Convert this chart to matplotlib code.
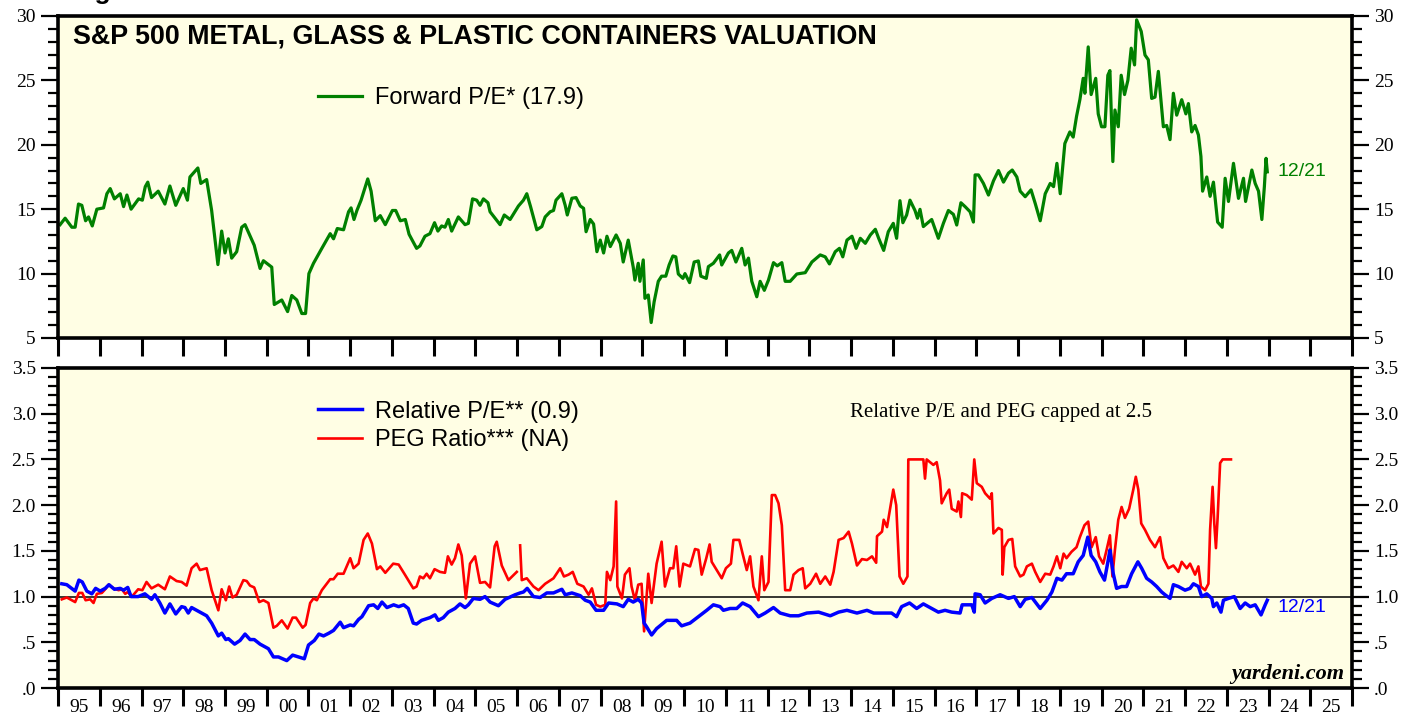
import numpy as np
import matplotlib
matplotlib.use('Agg')
import matplotlib.pyplot as plt
from matplotlib.lines import Line2D
from matplotlib.ticker import MultipleLocator, FuncFormatter

# Forward P/E (weekly data, decimal years)
pe_years = [
    1995.05, 1995.17, 1995.33, 1995.41, 1995.49, 1995.57, 1995.66, 1995.73, 1995.82, 1995.93,
    1996.09, 1996.17, 1996.25, 1996.35, 1996.49, 1996.57, 1996.65, 1996.75, 1996.93, 1997.02,
    1997.09, 1997.15, 1997.24, 1997.40, 1997.56, 1997.68, 1997.82, 1998.00, 1998.10, 1998.16,
    1998.35, 1998.42, 1998.56, 1998.68, 1998.83, 1998.92, 1999.00, 1999.08, 1999.16, 1999.28,
    1999.40, 1999.48, 1999.70, 1999.84, 1999.92, 2000.12, 2000.18, 2000.36, 2000.50, 2000.60,
    2000.72, 2000.84, 2000.93, 2001.01, 2001.12, 2001.32, 2001.52, 2001.60, 2001.69, 2001.84,
    2001.96, 2002.02, 2002.09, 2002.16, 2002.26, 2002.42, 2002.50, 2002.60, 2002.72, 2002.84,
    2003.01, 2003.09, 2003.20, 2003.32, 2003.41, 2003.59, 2003.67, 2003.79, 2003.91, 2004.02,
    2004.10, 2004.19, 2004.27, 2004.35, 2004.43, 2004.59, 2004.75, 2004.83, 2004.93, 2005.03,
    2005.11, 2005.19, 2005.30, 2005.35, 2005.59, 2005.69, 2005.83, 2006.03, 2006.15, 2006.23,
    2006.32, 2006.47, 2006.59, 2006.67, 2006.79, 2006.87, 2006.93, 2007.07, 2007.15, 2007.20,
    2007.31, 2007.41, 2007.51, 2007.59, 2007.65, 2007.75, 2007.83, 2007.91, 2007.99, 2008.07,
    2008.15, 2008.23, 2008.37, 2008.47, 2008.54, 2008.66, 2008.78, 2008.82, 2008.90, 2008.94,
    2009.02, 2009.06, 2009.14, 2009.21, 2009.28, 2009.38, 2009.46, 2009.56, 2009.64, 2009.73,
    2009.80, 2009.86, 2009.97, 2010.02, 2010.13, 2010.24, 2010.34, 2010.40, 2010.53, 2010.58,
    2010.70, 2010.85, 2010.90, 2011.06, 2011.14, 2011.24, 2011.38, 2011.46, 2011.54, 2011.62,
    2011.74, 2011.82, 2011.92, 2012.02, 2012.14, 2012.23, 2012.34, 2012.42, 2012.54, 2012.70,
    2012.90, 2013.06, 2013.26, 2013.38, 2013.48, 2013.62, 2013.72, 2013.80, 2013.90, 2014.02,
    2014.12, 2014.22, 2014.34, 2014.46, 2014.58, 2014.66, 2014.78, 2014.89, 2015.01, 2015.09,
    2015.17, 2015.24, 2015.33, 2015.41, 2015.53, 2015.59, 2015.65, 2015.73, 2015.93, 2016.09,
    2016.21, 2016.33, 2016.45, 2016.53, 2016.63, 2016.73, 2016.85, 2016.93, 2016.97, 2017.05,
    2017.17, 2017.29, 2017.41, 2017.53, 2017.65, 2017.77, 2017.86, 2017.97, 2018.05, 2018.17,
    2018.31, 2018.41, 2018.53, 2018.65, 2018.77, 2018.85, 2018.93, 2019.01, 2019.12, 2019.24,
    2019.32, 2019.40, 2019.48, 2019.56, 2019.60, 2019.68, 2019.75, 2019.86, 2019.92, 2020.00,
    2020.08, 2020.15, 2020.20, 2020.27, 2020.32, 2020.40, 2020.47, 2020.55, 2020.63, 2020.71,
    2020.79, 2020.84, 2020.95, 2021.04, 2021.12, 2021.20, 2021.28, 2021.36, 2021.48, 2021.56,
    2021.64, 2021.72, 2021.80, 2021.92, 2022.02, 2022.08, 2022.16, 2022.24, 2022.32, 2022.38,
    2022.42, 2022.52, 2022.60, 2022.68, 2022.78, 2022.89, 2022.96, 2023.04, 2023.16, 2023.28,
    2023.40, 2023.45, 2023.60, 2023.68, 2023.76, 2023.84, 2023.90, 2023.94, 2023.97,
]
pe_values = [
    13.8, 14.3, 13.6, 13.6, 15.4, 15.3, 14.1, 14.4, 13.7, 15.0,
    15.1, 16.2, 16.6, 15.8, 16.2, 15.2, 16.1, 15.0, 15.8, 15.7,
    16.75, 17.1, 15.9, 16.4, 15.4, 16.8, 15.3, 16.6, 15.7, 17.5,
    18.2, 17.0, 17.3, 14.9, 10.7, 13.3, 11.6, 12.7, 11.2, 11.7,
    13.6, 13.8, 12.2, 10.4, 11.0, 10.5, 7.6, 7.95, 7.05, 8.3,
    7.95, 6.9, 6.9, 10.0, 10.8, 11.96, 13.1, 12.7, 13.5, 13.4,
    14.8, 15.1, 14.2, 14.9, 15.7, 17.35, 16.4, 14.1, 14.5, 13.8,
    14.9, 14.9, 14.1, 14.2, 13.05, 11.96, 12.15, 12.9, 13.1, 13.95,
    13.3, 13.7, 13.6, 14.2, 13.3, 14.4, 13.8, 13.9, 15.8, 15.7,
    15.3, 15.8, 15.5, 14.8, 13.8, 14.55, 14.2, 15.25, 15.7, 16.2,
    15.2, 13.4, 13.65, 14.4, 14.8, 14.9, 15.7, 16.2, 15.3, 14.55,
    15.85, 15.9, 15.25, 15.07, 13.25, 14.2, 13.85, 11.7, 12.6, 11.6,
    12.9, 12.1, 13.0, 12.35, 10.9, 12.6, 10.5, 9.5, 10.8, 9.4,
    11.06, 8.08, 8.34, 6.2, 7.8, 9.4, 9.8, 9.8, 10.67, 11.37,
    11.3, 9.97, 9.63, 10.0, 9.3, 10.9, 10.98, 9.8, 9.63, 10.54,
    10.8, 11.45, 10.67, 11.6, 11.8, 10.9, 11.96, 10.67, 11.2, 9.4,
    8.2, 9.4, 8.7, 9.5, 10.85, 10.6, 10.85, 9.4, 9.4, 9.97,
    10.07, 10.9, 11.45, 11.3, 10.75, 11.7, 11.96, 11.3, 12.6, 12.9,
    11.96, 12.74, 12.35, 13.0, 13.44, 12.74, 11.8, 13.25, 13.9, 12.74,
    15.66, 13.95, 14.55, 15.7, 14.9, 14.3, 14.99, 13.65, 14.2, 12.74,
    13.9, 14.9, 14.6, 13.77, 15.5, 15.2, 14.8, 14.0, 17.66, 17.66,
    17.0, 16.1, 17.2, 18.0, 17.1, 17.8, 18.04, 17.5, 16.4, 15.97,
    16.5, 15.45, 14.1, 16.2, 17.0, 16.75, 18.56, 16.2, 20.1, 21.0,
    20.6, 22.2, 23.5, 25.16, 24.0, 27.6, 23.9, 25.16, 22.4, 21.4,
    21.4, 25.4, 25.76, 18.7, 22.7, 21.4, 25.4, 23.9, 25.0, 27.5,
    26.2, 29.7, 28.8, 26.97, 26.6, 23.6, 23.7, 25.7, 21.4, 21.5,
    20.4, 24.0, 22.3, 23.5, 22.4, 23.2, 21.0, 21.5, 20.76, 19.1,
    16.4, 17.5, 16.0, 17.1, 14.0, 13.6, 17.4, 15.6, 18.56, 15.84,
    17.4, 15.6, 18.04, 17.0, 16.4, 14.2, 16.75, 18.95, 17.9,
]

# Relative P/E (capped at 2.5)
rel_years = [
    1995.09, 1995.21, 1995.41, 1995.50, 1995.58, 1995.69, 1995.81, 1995.90, 1996.01, 1996.13,
    1996.22, 1996.35, 1996.49, 1996.57, 1996.67, 1996.75, 1996.92, 1997.08, 1997.24, 1997.32,
    1997.44, 1997.56, 1997.68, 1997.82, 1997.96, 1998.04, 1998.12, 1998.20, 1998.32, 1998.44,
    1998.56, 1998.68, 1998.84, 1998.92, 1999.02, 1999.08, 1999.23, 1999.36, 1999.48, 1999.60,
    1999.70, 1999.84, 2000.04, 2000.16, 2000.28, 2000.48, 2000.62, 2000.76, 2000.90, 2001.00,
    2001.14, 2001.25, 2001.36, 2001.49, 2001.60, 2001.76, 2001.84, 2002.00, 2002.08, 2002.20,
    2002.28, 2002.44, 2002.56, 2002.66, 2002.76, 2002.88, 2003.04, 2003.16, 2003.28, 2003.39,
    2003.51, 2003.59, 2003.71, 2003.91, 2004.03, 2004.11, 2004.23, 2004.35, 2004.51, 2004.63,
    2004.75, 2004.83, 2004.95, 2005.11, 2005.23, 2005.35, 2005.55, 2005.71, 2005.95, 2006.07,
    2006.15, 2006.24, 2006.39, 2006.55, 2006.71, 2006.87, 2007.07, 2007.15, 2007.31, 2007.51,
    2007.63, 2007.75, 2007.89, 2008.07, 2008.19, 2008.39, 2008.54, 2008.66, 2008.78, 2008.90,
    2008.98, 2009.04, 2009.10, 2009.22, 2009.34, 2009.58, 2009.82, 2009.94, 2010.14, 2010.34,
    2010.54, 2010.70, 2010.86, 2010.94, 2011.10, 2011.26, 2011.40, 2011.58, 2011.78, 2011.94,
    2012.14, 2012.30, 2012.54, 2012.74, 2012.94, 2013.22, 2013.50, 2013.70, 2013.90, 2014.14,
    2014.38, 2014.54, 2014.78, 2014.97, 2015.09, 2015.21, 2015.40, 2015.57, 2015.73, 2015.93,
    2016.09, 2016.25, 2016.41, 2016.61, 2016.66, 2016.89, 2016.95, 2016.97, 2017.09, 2017.21,
    2017.37, 2017.57, 2017.77, 2017.91, 2018.05, 2018.17, 2018.33, 2018.53, 2018.69, 2018.81,
    2018.93, 2019.05, 2019.16, 2019.32, 2019.44, 2019.56, 2019.67, 2019.75, 2019.86, 2019.96,
    2020.07, 2020.16, 2020.20, 2020.28, 2020.36, 2020.48, 2020.60, 2020.72, 2020.87, 2020.96,
    2021.08, 2021.20, 2021.32, 2021.44, 2021.52, 2021.64, 2021.72, 2021.84, 2022.00, 2022.12,
    2022.20, 2022.32, 2022.40, 2022.52, 2022.64, 2022.68, 2022.76, 2022.86, 2022.92, 2023.04,
    2023.18, 2023.32, 2023.44, 2023.56, 2023.68, 2023.82, 2023.92, 2023.97,
]
rel_values = [
    1.14, 1.13, 1.06, 1.18, 1.16, 1.06, 1.03, 1.09, 1.06, 1.09,
    1.13, 1.08, 1.09, 1.07, 1.10, 1.00, 1.00, 1.03, 0.97, 1.02,
    0.93, 0.82, 0.92, 0.81, 0.89, 0.88, 0.82, 0.88, 0.85, 0.82,
    0.79, 0.71, 0.57, 0.60, 0.53, 0.54, 0.48, 0.52, 0.59, 0.53,
    0.53, 0.48, 0.43, 0.34, 0.34, 0.30, 0.36, 0.34, 0.32, 0.47,
    0.52, 0.59, 0.57, 0.60, 0.63, 0.72, 0.66, 0.69, 0.68, 0.75,
    0.78, 0.90, 0.91, 0.87, 0.94, 0.88, 0.91, 0.89, 0.91, 0.87,
    0.71, 0.70, 0.74, 0.77, 0.80, 0.74, 0.77, 0.83, 0.87, 0.92,
    0.88, 0.91, 0.98, 0.97, 1.00, 0.94, 0.90, 0.97, 1.02, 1.04,
    1.05, 1.09, 1.00, 0.99, 1.04, 1.04, 1.08, 1.02, 1.04, 1.01,
    0.96, 0.94, 0.85, 0.85, 0.93, 0.92, 0.89, 0.97, 0.94, 0.97,
    0.93, 0.71, 0.67, 0.58, 0.65, 0.74, 0.74, 0.68, 0.71, 0.78,
    0.85, 0.91, 0.89, 0.85, 0.87, 0.87, 0.93, 0.89, 0.78, 0.82,
    0.88, 0.82, 0.79, 0.79, 0.82, 0.83, 0.79, 0.83, 0.85, 0.82,
    0.85, 0.82, 0.82, 0.82, 0.78, 0.89, 0.93, 0.87, 0.92, 0.87,
    0.83, 0.85, 0.83, 0.82, 0.91, 0.91, 0.83, 1.03, 1.02, 0.93,
    0.98, 1.02, 0.98, 1.00, 0.89, 0.97, 0.99, 0.87, 0.96, 1.05,
    1.20, 1.18, 1.25, 1.25, 1.38, 1.45, 1.65, 1.45, 1.38, 1.27,
    1.18, 1.40, 1.51, 1.25, 1.09, 1.11, 1.11, 1.25, 1.38, 1.31,
    1.20, 1.16, 1.11, 1.05, 1.02, 0.98, 1.13, 1.11, 1.07, 1.09,
    1.14, 1.11, 1.00, 1.03, 0.98, 0.89, 0.93, 0.83, 0.96, 0.98,
    1.00, 0.87, 0.93, 0.89, 0.91, 0.80, 0.91, 0.96,
]

# PEG ratio (capped at 2.5, NaN = no data)
peg_years = [
    1995.09, 1995.21, 1995.41, 1995.50, 1995.58, 1995.66, 1995.77, 1995.85, 1995.93, 1996.05,
    1996.13, 1996.21, 1996.33, 1996.45, 1996.53, 1996.61, 1996.67, 1996.77, 1996.92, 1997.02,
    1997.12, 1997.24, 1997.40, 1997.56, 1997.68, 1997.84, 1997.96, 1998.08, 1998.20, 1998.32,
    1998.40, 1998.56, 1998.68, 1998.84, 1998.92, 1999.02, 1999.10, 1999.18, 1999.28, 1999.44,
    1999.52, 1999.60, 1999.70, 1999.82, 1999.92, 2000.04, 2000.16, 2000.24, 2000.36, 2000.50,
    2000.62, 2000.70, 2000.86, 2000.93, 2001.04, 2001.12, 2001.20, 2001.32, 2001.52, 2001.60,
    2001.70, 2001.84, 2002.00, 2002.08, 2002.20, 2002.32, 2002.42, 2002.52, 2002.64, 2002.72,
    2002.84, 2003.03, 2003.16, 2003.31, 2003.51, 2003.59, 2003.67, 2003.75, 2003.83, 2003.91,
    2004.02, 2004.15, 2004.27, 2004.34, 2004.43, 2004.51, 2004.59, 2004.67, 2004.77, 2004.87,
    2004.99, 2005.11, 2005.23, 2005.35, 2005.46, 2005.51, 2005.63, 2005.79, 2005.99, 2006.03,
    2006.07, 2006.11, 2006.23, 2006.39, 2006.51, 2006.67, 2006.87, 2007.03, 2007.12, 2007.23,
    2007.33, 2007.44, 2007.59, 2007.71, 2007.79, 2007.89, 2007.99, 2008.11, 2008.15, 2008.23,
    2008.31, 2008.37, 2008.40, 2008.51, 2008.58, 2008.69, 2008.74, 2008.82, 2008.90, 2008.98,
    2009.04, 2009.14, 2009.22, 2009.34, 2009.46, 2009.54, 2009.66, 2009.74, 2009.81, 2009.89,
    2009.98, 2010.14, 2010.26, 2010.34, 2010.42, 2010.53, 2010.61, 2010.66, 2010.78, 2010.90,
    2011.00, 2011.12, 2011.18, 2011.32, 2011.40, 2011.50, 2011.58, 2011.66, 2011.78, 2011.86,
    2011.92, 2012.02, 2012.10, 2012.18, 2012.26, 2012.34, 2012.42, 2012.54, 2012.62, 2012.74,
    2012.84, 2012.90, 2013.02, 2013.16, 2013.26, 2013.38, 2013.50, 2013.58, 2013.70, 2013.82,
    2013.94, 2014.02, 2014.14, 2014.26, 2014.38, 2014.50, 2014.60, 2014.62, 2014.74, 2014.78,
    2014.86, 2014.93, 2015.01, 2015.08, 2015.16, 2015.25, 2015.35, 2015.37, 2015.73, 2015.77,
    2015.81, 2015.97, 2016.05, 2016.13, 2016.17, 2016.29, 2016.35, 2016.41, 2016.53, 2016.57,
    2016.63, 2016.66, 2016.77, 2016.89, 2016.95, 2017.01, 2017.13, 2017.21, 2017.33, 2017.37,
    2017.41, 2017.53, 2017.61, 2017.63, 2017.67, 2017.77, 2017.86, 2017.93, 2018.05, 2018.13,
    2018.21, 2018.33, 2018.41, 2018.53, 2018.65, 2018.77, 2018.85, 2018.93, 2019.01, 2019.09,
    2019.16, 2019.28, 2019.40, 2019.48, 2019.59, 2019.68, 2019.76, 2019.86, 2019.94, 2020.04,
    2020.12, 2020.20, 2020.26, 2020.32, 2020.40, 2020.48, 2020.56, 2020.66, 2020.76, 2020.82,
    2020.88, 2020.95, 2021.04, 2021.16, 2021.28, 2021.40, 2021.48, 2021.60, 2021.72, 2021.84,
    2021.92, 2022.04, 2022.12, 2022.24, 2022.32, 2022.38, 2022.48, 2022.56, 2022.60, 2022.66,
    2022.70, 2022.74, 2022.78, 2022.84, 2022.90, 2023.10,
]
peg_values = [
    0.97, 0.99, 0.94, 1.04, 1.04, 0.96, 0.97, 0.93, 1.03, 1.04,
    1.08, 1.13, 1.09, 1.07, 1.08, 1.03, 1.05, 1.00, 1.08, 1.07,
    1.16, 1.09, 1.13, 1.08, 1.22, 1.17, 1.16, 1.12, 1.31, 1.36,
    1.29, 1.31, 1.07, 0.85, 1.08, 0.96, 1.11, 0.99, 1.02, 1.18,
    1.17, 1.12, 1.10, 0.94, 0.96, 0.93, 0.66, 0.68, 0.74, 0.65,
    0.77, 0.77, 0.66, 0.69, 0.93, 0.98, 0.96, 1.07, 1.19, 1.19,
    1.25, 1.25, 1.42, 1.31, 1.36, 1.62, 1.69, 1.58, 1.30, 1.33,
    1.26, 1.36, 1.35, 1.24, 1.09, 1.11, 1.22, 1.20, 1.25, 1.20,
    1.30, 1.27, 1.26, 1.44, 1.35, 1.42, 1.57, 1.45, 0.98, 1.36,
    1.44, 1.15, 1.16, 1.10, 1.55, 1.60, 1.34, 1.18, 1.27, np.nan,
    1.56, 1.18, 1.20, 1.11, 1.07, 1.14, 1.20, 1.31, 1.22, 1.24,
    1.27, 1.14, 1.11, 1.02, 1.09, 0.91, 0.89, 0.91, 1.27, 1.18,
    1.33, 2.04, 1.11, 0.98, 1.24, 1.31, 1.11, 0.96, 1.13, 1.14,
    0.62, 1.25, 0.93, 1.36, 1.60, 1.11, 1.31, 1.31, 1.55, 1.11,
    1.36, 1.33, 1.52, 1.51, 1.24, 1.42, 1.57, 1.38, 1.29, 1.20,
    1.31, 1.36, 1.62, 1.62, 1.47, 1.29, 1.44, 1.11, 0.96, 1.44,
    1.07, 1.16, 2.11, 2.11, 2.02, 1.78, 1.07, 1.07, 1.24, 1.29,
    1.31, 1.09, 1.14, 1.25, 1.14, 1.22, 1.13, 1.27, 1.62, 1.64,
    1.71, 1.58, 1.34, 1.41, 1.40, 1.44, 1.37, 1.66, 1.71, 1.84,
    1.76, 1.95, 2.17, 2.00, 1.22, 1.14, 1.22, 2.50, 2.50, 2.29,
    2.50, 2.44, 2.47, 2.27, 2.02, 2.13, 2.17, 1.96, 1.93, 2.04,
    1.87, 2.13, 2.11, 2.06, 2.50, 2.24, 2.20, 2.13, 2.07, 2.13,
    1.69, 1.75, 1.73, 1.24, 1.54, 1.62, 1.63, 1.33, 1.22, 1.24,
    1.33, 1.36, 1.27, 1.16, 1.25, 1.24, 1.33, 1.44, 1.31, 1.47,
    1.42, 1.49, 1.54, 1.65, 1.78, 1.82, 1.54, 1.65, 1.44, 1.36,
    1.51, 1.67, 1.22, 1.51, 1.84, 1.98, 1.86, 1.96, 2.17, 2.31,
    2.17, 1.80, 1.73, 1.62, 1.54, 1.65, 1.42, 1.31, 1.34, 1.27,
    1.38, 1.31, 1.36, 1.24, 1.33, 1.11, 1.07, 1.14, 1.73, 2.20,
    1.80, 1.53, 1.86, 2.46, 2.50, 2.50,
]

year_labels = [f'{y % 100:02d}' for y in range(1995, 2026)]

GREEN = '#008000'
BLUE = '#0000FF'
RED = '#FF0000'
BG = '#FFFEE4'
SERIF = 'Liberation Serif'
SANS = 'Liberation Sans'

fig = plt.figure(figsize=(14.19, 7.17), dpi=100)
ax1 = fig.add_axes([0.0409, 0.5286, 0.9119, 0.4491])
ax2 = fig.add_axes([0.0409, 0.0404, 0.9119, 0.4464])


def style_axis(ax, ymin, ymax, major, minor):
    ax.set_facecolor(BG)
    ax.set_xlim(1995, 2026)
    ax.set_ylim(ymin, ymax)
    for s in ax.spines.values():
        s.set_linewidth(2.6)
    ax.yaxis.set_major_locator(MultipleLocator(major))
    ax.yaxis.set_minor_locator(MultipleLocator(minor))
    ax.tick_params(axis='y', which='both', direction='out', left=True, right=True,
                   labelleft=True, labelright=True, width=1.6, labelsize=14, pad=4)
    ax.tick_params(axis='y', which='major', length=12)
    ax.tick_params(axis='y', which='minor', length=7)
    ax.set_xticks(np.arange(1995, 2027, 1))
    ax.tick_params(axis='x', which='major', direction='out', length=13, width=2.2,
                   top=False, labelbottom=False)


style_axis(ax1, 5, 30, 5, 1)
style_axis(ax2, 0, 3.5, 0.5, 0.1)

ax2.yaxis.set_major_formatter(FuncFormatter(
    lambda v, p: ('%.1f' % v).lstrip('0') if v < 1 else '%.1f' % v))
ax2.set_xticks(np.arange(1995.5, 2026, 1), minor=True)
ax2.set_xticklabels(year_labels, minor=True, fontfamily=SERIF, fontsize=14)
ax2.tick_params(axis='x', which='minor', length=0, pad=8, top=False)
for ax in (ax1, ax2):
    for lab in ax.get_yticklabels():
        lab.set_fontfamily(SERIF)

# top panel
ax1.plot(pe_years, pe_values, color=GREEN, lw=2.3)
ax1.annotate('12/21', xy=(pe_years[-1], pe_values[-1]), xytext=(7, 0),
             textcoords='offset points', color=GREEN, fontsize=14,
             fontfamily=SANS, va='center')
ax1.text(0.0116, 0.935, 'S&P 500 METAL, GLASS & PLASTIC CONTAINERS VALUATION',
         transform=ax1.transAxes, fontsize=19.4, fontweight='bold', fontfamily=SANS,
         va='center', ha='left')
ax1.legend([Line2D([], [], color=GREEN, lw=2.3)], ['Forward P/E* (17.9)'],
           loc='upper left', bbox_to_anchor=(0.201, 0.778), frameon=False,
           borderpad=0, borderaxespad=0, handlelength=1.85, handletextpad=0.55,
           prop={'family': SANS, 'size': 17})

# bottom panel
ax2.axhline(1.0, color='black', lw=1.1, zorder=1)
ax2.plot(peg_years, peg_values, color=RED, lw=1.9, zorder=2)
ax2.plot(rel_years, rel_values, color=BLUE, lw=2.5, zorder=3)
ax2.annotate('12/21', xy=(rel_years[-1], rel_values[-1]), xytext=(7, -5),
             textcoords='offset points', color=BLUE, fontsize=14,
             fontfamily=SANS, va='center')
ax2.legend([Line2D([], [], color=BLUE, lw=2.5), Line2D([], [], color=RED, lw=1.9)],
           ['Relative P/E** (0.9)', 'PEG Ratio*** (NA)'],
           loc='upper left', bbox_to_anchor=(0.201, 0.898), frameon=False,
           borderpad=0, borderaxespad=0, handlelength=1.85, handletextpad=0.55,
           labelspacing=0.28, prop={'family': SANS, 'size': 17})
ax2.text(0.612, 0.86, 'Relative P/E and PEG capped at 2.5', transform=ax2.transAxes,
         fontsize=15, fontfamily=SERIF, va='center', ha='left')
ax2.text(0.994, 0.045, 'yardeni.com', transform=ax2.transAxes, fontsize=16,
         fontfamily=SERIF, fontweight='bold', fontstyle='italic', ha='right', va='center')

fig.text(0.05, 1.002, 'Figure 6.', fontsize=19, fontweight='bold', fontfamily=SANS,
         va='baseline', ha='left')

fig.savefig('out.png', dpi=100, facecolor='white')
